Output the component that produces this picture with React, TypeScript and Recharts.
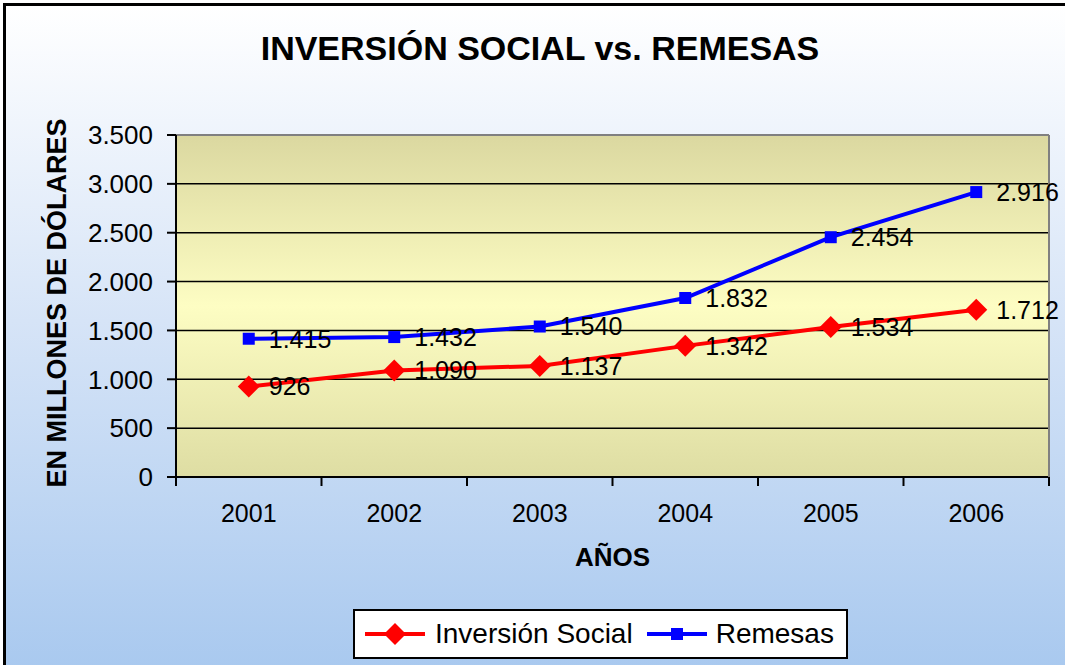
import React from 'react';
import {
  LineChart,
  Line,
  XAxis,
  YAxis,
  CartesianGrid,
  Legend,
  LabelList,
  Label,
} from 'recharts';

// Values
const years = ['2001', '2002', '2003', '2004', '2005', '2006'];
const inversionSocial = [926, 1090, 1137, 1342, 1534, 1712];
const remesas = [1415, 1432, 1540, 1832, 2454, 2916];
const yTicks = [0, 500, 1000, 1500, 2000, 2500, 3000, 3500];

const data = years.map((year, i) => ({
  year,
  inversion: inversionSocial[i],
  remesas: remesas[i],
}));

const FONT = "'Liberation Sans', Arial, sans-serif";
const X_TICK_MARGIN = 27;

// 1415 -> "1.415"
const fmt = (v: any) => String(v).replace(/\B(?=(\d{3})+(?!\d))/g, '.');

const Diamond = (props: any) => {
  const { cx, cy, index } = props;
  if (cx == null || cy == null) return null;
  const r = 11;
  return (
    <path
      key={`d-${index}`}
      d={`M${cx},${cy - r} L${cx + r},${cy} L${cx},${cy + r} L${cx - r},${cy} Z`}
      fill="#ff0000"
    />
  );
};

const Square = (props: any) => {
  const { cx, cy, index } = props;
  if (cx == null || cy == null) return null;
  const s = 12;
  return <rect key={`s-${index}`} x={cx - s / 2} y={cy - s / 2} width={s} height={s} fill="#0000ff" />;
};

// category label plus tick marks between categories (Excel style)
const YearTick = (props: any) => {
  const { x, y, payload, index, visibleTicksCount } = props;
  const half = payload.offset || 0;
  const axisY = y - X_TICK_MARGIN;
  const last = index === visibleTicksCount - 1;
  return (
    <g>
      <line x1={x - half} y1={axisY} x2={x - half} y2={axisY + 9} stroke="#000" strokeWidth={2} />
      {last && <line x1={x + half} y1={axisY} x2={x + half} y2={axisY + 9} stroke="#000" strokeWidth={2} />}
      <text x={x} y={y} dy="0.71em" textAnchor="middle" fill="#000" fontSize={25} fontFamily={FONT}>
        {payload.value}
      </text>
    </g>
  );
};

const LegendBox = () => (
  <div
    style={{
      boxSizing: 'border-box',
      width: 495,
      height: 50,
      border: '2px solid #000',
      background: '#fff',
      display: 'flex',
      alignItems: 'center',
      paddingLeft: 10,
      fontFamily: FONT,
      fontSize: 28,
      color: '#000',
    }}
  >
    <svg width={60} height={24} style={{ marginRight: 10 }}>
      <line x1={0} y1={12} x2={60} y2={12} stroke="#ff0000" strokeWidth={4} />
      <path d="M30,1 L41,12 L30,23 L19,12 Z" fill="#ff0000" />
    </svg>
    <span style={{ marginRight: 14 }}>Inversión Social</span>
    <svg width={60} height={24} style={{ marginRight: 9 }}>
      <line x1={0} y1={12} x2={60} y2={12} stroke="#0000ff" strokeWidth={4} />
      <rect x={24} y={6} width={12} height={12} fill="#0000ff" />
    </svg>
    <span>Remesas</span>
  </div>
);

export default function App() {
  return (
    <div
      style={{
        position: 'absolute',
        left: 0,
        top: 0,
        width: 1065,
        height: 665,
        overflow: 'hidden',
        background: '#fff',
        fontFamily: FONT,
      }}
    >
      <div
        style={{
          position: 'absolute',
          left: 3,
          top: 3,
          width: 1100,
          height: 700,
          border: '3px solid #000',
          background: 'linear-gradient(to bottom, #ffffff 0%, #d6e4f7 45%, #a4c6ee 100%)',
        }}
      />
      <div
        style={{
          position: 'absolute',
          left: 0,
          top: 28,
          width: 1080,
          textAlign: 'center',
          fontSize: 34,
          lineHeight: '40px',
          fontWeight: 'bold',
          color: '#000',
        }}
      >
        INVERSIÓN SOCIAL vs. REMESAS
      </div>
      <div style={{ position: 'absolute', left: 0, top: 0 }}>
        <LineChart
          width={1065}
          height={665}
          data={data}
          margin={{ top: 134, right: 15, bottom: 88, left: 0 }}
          style={{ fontFamily: FONT }}
        >
          <defs>
            <linearGradient id="plotBg" x1="0" y1="0" x2="0" y2="1">
              <stop offset="0%" stopColor="#dbd8a0" />
              <stop offset="50%" stopColor="#fdfdc3" />
              <stop offset="100%" stopColor="#dedda3" />
            </linearGradient>
          </defs>
          <CartesianGrid
            vertical={false}
            stroke="#000"
            strokeWidth={1.5}
            fill="url(#plotBg)"
            fillOpacity={1}
          />
          <XAxis
            dataKey="year"
            scale="band"
            height={100}
            tickLine={false}
            axisLine={{ stroke: '#000', strokeWidth: 2 }}
            tickSize={0}
            tickMargin={X_TICK_MARGIN}
            tick={YearTick}
            interval={0}
          >
            <Label
              value="AÑOS"
              position="insideTop"
              offset={71}
              style={{ fill: '#000', fontSize: 26, fontWeight: 'bold', fontFamily: FONT }}
            />
          </XAxis>
          <XAxis
            xAxisId="top"
            orientation="top"
            type="number"
            domain={[0, 1]}
            height={1}
            tick={false}
            tickLine={false}
            axisLine={{ stroke: '#808080', strokeWidth: 2 }}
          />
          <YAxis
            domain={[0, 3500]}
            ticks={yTicks}
            width={176}
            tickFormatter={fmt}
            tickSize={9}
            tickMargin={14}
            tickLine={{ stroke: '#000', strokeWidth: 2 }}
            axisLine={{ stroke: '#000', strokeWidth: 2 }}
            tick={{ fill: '#000', fontSize: 26, fontFamily: FONT }}
          >
            <Label
              content={(props: any) => {
                const vb = props.viewBox || {};
                const x = (vb.x || 0) + 57;
                const y = (vb.y || 0) + (vb.height || 0) / 2 - 3;
                return (
                  <text
                    x={x}
                    y={y}
                    transform={`rotate(-90, ${x}, ${y})`}
                    textAnchor="middle"
                    dominantBaseline="central"
                    fill="#000"
                    fontSize={27}
                    fontWeight="bold"
                    fontFamily={FONT}
                  >
                    EN MILLONES DE DÓLARES
                  </text>
                );
              }}
            />
          </YAxis>
          <YAxis
            yAxisId="right"
            orientation="right"
            domain={[0, 1]}
            width={1}
            tick={false}
            tickLine={false}
            axisLine={{ stroke: '#808080', strokeWidth: 2 }}
          />
          <Legend
            layout="horizontal"
            verticalAlign="middle"
            align="center"
            wrapperStyle={{ left: 353, top: 609, width: 495, height: 50 }}
            content={() => <LegendBox />}
          />
          <Line
            type="linear"
            dataKey="inversion"
            name="Inversión Social"
            stroke="#ff0000"
            strokeWidth={4}
            dot={Diamond}
            activeDot={false}
            isAnimationActive={false}
          >
            <LabelList
              dataKey="inversion"
              position="right"
              offset={20}
              formatter={fmt}
              fill="#000"
              fontSize={25}
              fontFamily={FONT}
            />
          </Line>
          <Line
            type="linear"
            dataKey="remesas"
            name="Remesas"
            stroke="#0000ff"
            strokeWidth={4}
            dot={Square}
            activeDot={false}
            isAnimationActive={false}
          >
            <LabelList
              dataKey="remesas"
              position="right"
              offset={20}
              formatter={fmt}
              fill="#000"
              fontSize={25}
              fontFamily={FONT}
            />
          </Line>
        </LineChart>
      </div>
    </div>
  );
}
